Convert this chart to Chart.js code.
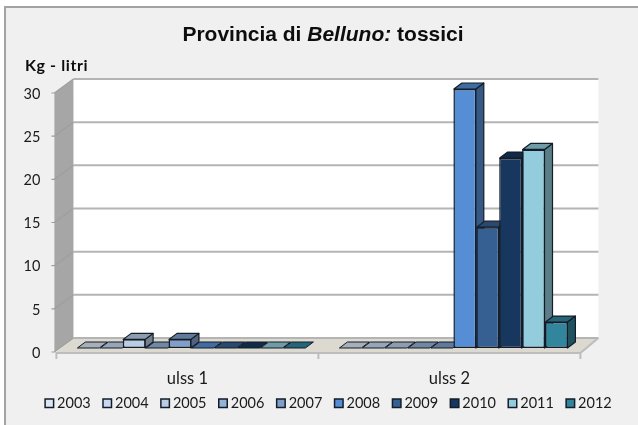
<!DOCTYPE html>
<html>
<head>
<meta charset="utf-8">
<style>html,body{margin:0;padding:0;background:#fff}canvas{display:block}</style>
<script src="https://cdn.jsdelivr.net/npm/chart.js@4"></script>
</head>
<body>
<div style="width:638px;height:425px;position:relative"><canvas id="c" width="638" height="425"></canvas></div>
<script>
const categories = ['ulss 1', 'ulss 2'];
const years = ['2003','2004','2005','2006','2007','2008','2009','2010','2011','2012'];
const ulss1 = [0,0,1,0,1,0,0,0,0,0];
const ulss2 = [0,0,0,0,0,30,14,22,23,3];
const colors = ['#dce6f2','#c6d9f1','#b9cde5','#95b3d7','#7f9fca','#558ed5','#376092','#17375e','#93cddd','#31859c'];
const titleParts = [['bold 21px "Liberation Sans"','Provincia di '],['italic bold 21px "Liberation Sans"','Belluno: '],['bold 21px "Liberation Sans"','tossici']];
const yTitle = 'Kg - litri';
const EDGE = '#141c28';

function shade(hex, f){
  const n = parseInt(hex.slice(1),16);
  const c = [(n>>16)&255,(n>>8)&255,n&255].map(v=>Math.round(v*f));
  return `rgb(${c[0]},${c[1]},${c[2]})`;
}
function poly(ctx, pts, fill, stroke, lw){
  ctx.beginPath();
  pts.forEach((p,i)=> i?ctx.lineTo(p[0],p[1]):ctx.moveTo(p[0],p[1]));
  ctx.closePath();
  if(fill){ctx.fillStyle=fill;ctx.fill();}
  if(stroke){ctx.strokeStyle=stroke;ctx.lineWidth=lw||1;ctx.lineJoin='round';ctx.stroke();}
}
const scene = {
  id:'scene',
  afterLayout(chart){
    const lg=chart.legend, h=lg.height;
    lg.top=380;
    lg.bottom=lg.top+h;
    lg.left+=1.3;lg.right+=1.3;
  },
  beforeDraw(chart){
    const ctx=chart.ctx, y=chart.scales.y, x=chart.scales.x;
    ctx.save();
    ctx.fillStyle='#fff';ctx.fillRect(0,0,638,425);
    ctx.fillStyle='#f0f0f0';ctx.fillRect(5,7,633,418);
    ctx.fillStyle='#a3a3a3';ctx.fillRect(4,6,634,2);ctx.fillRect(4,6,2,419);
    const fl=x.left-4, fr=x.right-4, bl=x.left+13, br=x.right+14;
    const y0=y.getPixelForValue(0), yT=y.getPixelForValue(30);
    ctx.fillStyle='#fff';ctx.fillRect(bl,yT-10,br-bl,y0-yT);
    poly(ctx,[[fl-2,yT+4],[bl,yT-10],[bl,y0-10],[fl-2,y0+4]],'#a6a6a6');
    poly(ctx,[[fl,y0+4],[bl,y0-10],[br,y0-10],[fr,y0+4]],'#dcd9d0');
    y.ticks.forEach(t=>{
      const p=y.getPixelForValue(t.value);
      ctx.strokeStyle='#b4b4b4';ctx.lineWidth=2;
      ctx.beginPath();ctx.moveTo(bl,p-10);ctx.lineTo(br,p-10);ctx.stroke();
      ctx.strokeStyle='#9e9e9e';ctx.lineWidth=1.2;
      ctx.beginPath();ctx.moveTo(fl-5,p+4);ctx.lineTo(fl-2,p+4);ctx.lineTo(bl,p-10);ctx.stroke();
    });
    ctx.strokeStyle='#bdbdbd';ctx.lineWidth=2;
    ctx.beginPath();ctx.moveTo(fl,y0+5);ctx.lineTo(fr,y0+5);ctx.stroke();
    ctx.beginPath();ctx.moveTo(fr,y0+5);ctx.lineTo(br,y0-10);ctx.stroke();
    const cw=(x.right-x.left)/categories.length;
    for(let k=0;k<=categories.length;k++){
      const px=fl+k*cw;
      ctx.beginPath();ctx.moveTo(px,y0+4);ctx.lineTo(px,y0+11);ctx.stroke();
    }
    ctx.fillStyle='#0d0d0d';ctx.textBaseline='alphabetic';ctx.textAlign='left';
    let w=0;titleParts.forEach(p=>{ctx.font=p[0];w+=ctx.measureText(p[1]).width;});
    let tx=323-w/2;
    titleParts.forEach(p=>{ctx.font=p[0];ctx.fillText(p[1],tx,41);tx+=ctx.measureText(p[1]).width;});
    ctx.font='bold 16px Lato';ctx.letterSpacing='0.6px';ctx.fillText(yTitle,25,71);ctx.letterSpacing='0px';
    ctx.restore();
  },
  beforeDatasetsDraw(chart){
    const ctx=chart.ctx, dx=8, dy=6;
    for(let d=0;d<chart.data.datasets.length;d++){
      const meta=chart.getDatasetMeta(d), col=colors[d];
      meta.data.forEach(b=>{
        const l=b.x-b.width/2+0.5, r=b.x+b.width/2-0.5, t=b.y, bot=b.base;
        const tp=Math.min(t,bot);
        ctx.save();
        if(bot-tp>0.5) poly(ctx,[[r,tp],[r+dx,tp-dy],[r+dx,bot-dy],[r,bot]],shade(col,.62),EDGE,1.2);
        poly(ctx,[[l,tp],[l+dx,tp-dy],[r+dx,tp-dy],[r,tp]],shade(col,.76),EDGE,bot-tp>0.5?1.2:1);
        ctx.restore();
        if(bot-tp>0.5) b.draw(ctx,chart.chartArea);
      });
    }
    return false;
  }
};
new Chart(document.getElementById('c'),{
  type:'bar',
  data:{
    labels:categories,
    datasets:years.map((yr,i)=>({
      label:yr,
      data:[ulss1[i],ulss2[i]],
      backgroundColor:colors[i],
      borderColor:EDGE,
      borderWidth:1.5,
      borderSkipped:false,
      categoryPercentage:0.874,
      barPercentage:1
    }))
  },
  plugins:[scene],
  options:{
    responsive:false,
    animation:false,
    events:[],
    layout:{padding:{left:20,right:0,top:89,bottom:-1.5}},
    plugins:{
      title:{display:false},
      tooltip:{enabled:false},
      legend:{
        position:'bottom',
        labels:{usePointStyle:true,pointStyle:'rect',boxWidth:1,boxHeight:8.5,padding:16,color:'#1a1a1a',font:{family:'Lato',size:14.5}}
      }
    },
    scales:{
      x:{
        grid:{display:false},border:{display:false},
        ticks:{color:'#1a1a1a',font:{family:'Lato',size:16.5},padding:13,labelOffset:-4,maxRotation:0},
        afterFit(s){s.height=38;}
      },
      y:{
        min:0,max:30,
        grid:{display:false},border:{display:false},
        ticks:{stepSize:5,color:'#1a1a1a',font:{family:'Lato',size:14.5},padding:12,labelOffset:5},
        afterFit(s){s.width=40.4;}
      },
      y2:{
        position:'right',min:0,max:30,
        grid:{display:false},border:{display:false},
        ticks:{display:false},
        afterFit(s){s.width=53.6;}
      }
    }
  }
});
</script>
</body>
</html>
